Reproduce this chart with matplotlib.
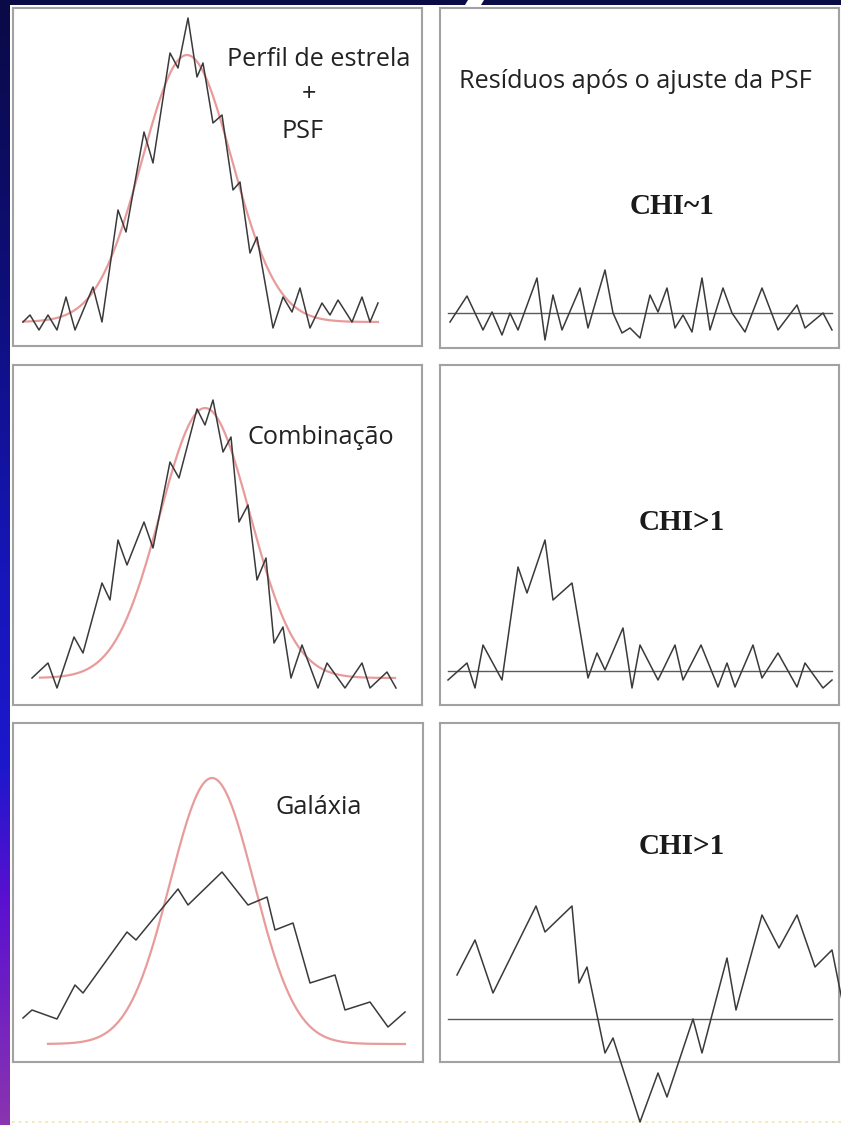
import numpy as np
import matplotlib
matplotlib.use("Agg")
import matplotlib.pyplot as plt
from matplotlib.colors import LinearSegmentedColormap
from matplotlib.patches import Rectangle, Polygon

# ---------------------------------------------------------------------------
# Profiles: x = position across the panel, y = signal above the sky level
# ---------------------------------------------------------------------------
# Isolated star + PSF
star_x = [10, 17, 26, 35, 44, 53, 62, 80, 89, 105, 113, 131, 140, 157, 165, 175,
          184, 190, 200, 209, 220, 227, 237, 244, 260, 270, 279, 287, 297, 309,
          317, 325, 339, 349, 357, 365]
star_y = [0, 7, -8, 7, -8, 25, -8, 35, 0, 112, 90, 190, 159, 269, 254, 304,
          245, 259, 199, 207, 132, 140, 69, 85, -6, 25, 10, 34, -6, 19,
          7, 22, 0, 25, 0, 19]
star_psf = dict(amp=267, center=174, sigma=45, x0=10, x1=365)

star_res_x = [10, 27, 43, 52, 62, 70, 78, 97, 105, 113, 122, 140, 148, 165, 173,
              182, 190, 200, 210, 218, 227, 235, 243, 252, 262, 270, 283, 292,
              305, 322, 338, 357, 365, 383, 392]
star_res_y = [-9, 17, -17, 1, -22, 0, -17, 35, -27, 18, -17, 25, -15, 43, 0,
              -20, -15, -25, 18, 1, 25, -15, -2, -19, 35, -17, 25, 0,
              -19, 25, -17, 8, -15, 0, -17]

# Blended pair (combinação)
blend_x = [19, 35, 44, 61, 70, 89, 97, 105, 114, 131, 140, 157, 166, 184, 192,
           200, 210, 218, 226, 235, 244, 253, 261, 270, 278, 289, 305, 314, 332,
           349, 357, 374, 383]
blend_y = [0, 15, -10, 41, 25, 95, 78, 138, 113, 156, 130, 216, 200, 269, 253,
           278, 226, 241, 156, 173, 98, 120, 35, 51, 0, 33, -10, 15, -10,
           15, -10, 6, -10]
blend_psf = dict(amp=270, center=192, sigma=45, x0=27, x1=382)

blend_res_x = [8, 27, 35, 43, 62, 78, 87, 105, 113, 132, 148, 157, 165, 183, 192,
               200, 218, 235, 243, 261, 278, 287, 295, 313, 322, 338, 357, 365,
               383, 392]
blend_res_y = [-9, 8, -17, 26, -9, 104, 78, 131, 71, 88, -7, 18, 1, 43, -17,
               26, -9, 26, -9, 26, -16, 8, -16, 26, -7, 18, -16, 8, -17, -9]

# Extended source (galáxia)
gal_x = [10, 19, 44, 62, 70, 114, 123, 165, 175, 209, 235, 254, 262, 280, 297,
         322, 332, 357, 375, 392]
gal_y = [26, 34, 25, 59, 51, 112, 104, 155, 139, 172, 139, 147, 114, 121, 61,
         69, 34, 42, 17, 32]
gal_psf = dict(amp=266, center=199, sigma=42, x0=35, x1=392)

gal_res_x = [17, 35, 53, 96, 105, 132, 139, 147, 165, 173, 200, 218, 227, 253,
             262, 287, 296, 322, 339, 357, 375, 392, 402]
gal_res_y = [44, 79, 26, 113, 87, 113, 36, 52, -34, -19, -103, -54, -78, 0,
             -34, 61, 9, 104, 71, 104, 52, 69, 19]

residual_span = (8, 392)

# ---------------------------------------------------------------------------
W, H = 841, 1125
fig = plt.figure(figsize=(W / 100, H / 100), dpi=100)
fig.patch.set_facecolor("white")

LINE = "#3a3a3a"
PSF_RED = "#e58a8a"
FRAME = "#a2a2a2"
SANS = ["Open Sans", "DejaVu Sans"]
SERIF = ["Liberation Serif", "DejaVu Serif"]

# Slide backdrop: gradient strip on the left and dark band on top
bg = fig.add_axes([0, 0, 1, 1])
strip = LinearSegmentedColormap.from_list(
    "strip",
    [(0.0, "#0a0a46"), (0.25, "#0e0e78"), (0.5, "#1616b8"),
     (0.68, "#1c18cc"), (0.8, "#5a10d0"), (1.0, "#8a34b0")])
bg.imshow(np.linspace(0, 1, 256)[:, None], extent=[0, 10, H, 0],
          cmap=strip, aspect="auto")
bg.add_patch(Rectangle((0, 0), W, 5, color="#0a0a46", lw=0))
bg.add_patch(Polygon([(468, 0), (484, 0), (481, 5), (465, 5)],
                     closed=True, color="white", lw=0))
bg.plot([12, W], [1122, 1122], color="#ece6a8", lw=1.2, ls=(0, (1.5, 2.5)))
bg.set_xlim(0, W)
bg.set_ylim(H, 0)
bg.axis("off")


def panel(left, top, right, bottom, base):
    ax = fig.add_axes([left / W, 1 - bottom / H, (right - left) / W,
                       (bottom - top) / H])
    ax.set_xlim(0, right - left)
    ax.set_ylim(base - bottom, base - top)
    ax.set_xticks([])
    ax.set_yticks([])
    ax.set_facecolor("white")
    for s in ax.spines.values():
        s.set_color(FRAME)
        s.set_linewidth(1.5)
    return ax


def psf_curve(ax, p):
    xs = np.linspace(p["x0"], p["x1"], 400)
    ys = p["amp"] * np.exp(-0.5 * ((xs - p["center"]) / p["sigma"]) ** 2)
    ax.plot(xs, ys, color=PSF_RED, lw=1.6, alpha=0.85, zorder=2)


def residual(ax, x, y):
    ax.plot(residual_span, [0, 0], color="#5a5a5a", lw=1.0, zorder=2)
    ax.plot(x, y, color=LINE, lw=1.1, zorder=3, clip_on=False)


ax1 = panel(13, 8, 422, 346, 322)
psf_curve(ax1, star_psf)
ax1.plot(star_x, star_y, color=LINE, lw=1.1, zorder=3)

ax2 = panel(440, 8, 839, 348, 313)
residual(ax2, star_res_x, star_res_y)

ax3 = panel(13, 365, 422, 705, 678)
psf_curve(ax3, blend_psf)
ax3.plot(blend_x, blend_y, color=LINE, lw=1.1, zorder=3)

ax4 = panel(440, 365, 839, 705, 671)
residual(ax4, blend_res_x, blend_res_y)

ax5 = panel(13, 723, 423, 1062, 1044)
psf_curve(ax5, gal_psf)
ax5.plot(gal_x, gal_y, color=LINE, lw=1.1, zorder=3)

ax6 = panel(440, 723, 839, 1062, 1019)
residual(ax6, gal_res_x, gal_res_y)

# Labels, in figure pixel coordinates
ov = fig.add_axes([0, 0, 1, 1], facecolor="none")
ov.set_xlim(0, W)
ov.set_ylim(H, 0)
ov.axis("off")

lab = dict(family=SANS, fontsize=18.2, color="#222222",
           ha="center", va="center")
ov.text(319, 60, "Perfil de estrela", **lab)
ov.text(309, 95, "+", **lab)
ov.text(303, 132, "PSF", **lab)
ov.text(635, 81, "Resíduos após o ajuste da PSF", **lab)
ov.text(321, 438, "Combinação", **lab)
ov.text(319, 808, "Galáxia", **lab)

chi = dict(family=SERIF, fontsize=21, fontweight="bold", color="#1a1a1a",
           ha="center", va="center")
ov.text(672, 207, "CHI~1", **chi)
ov.text(682, 522, "CHI>1", **chi)
ov.text(682, 847, "CHI>1", **chi)

fig.savefig("out.png", dpi=100, facecolor="white")
